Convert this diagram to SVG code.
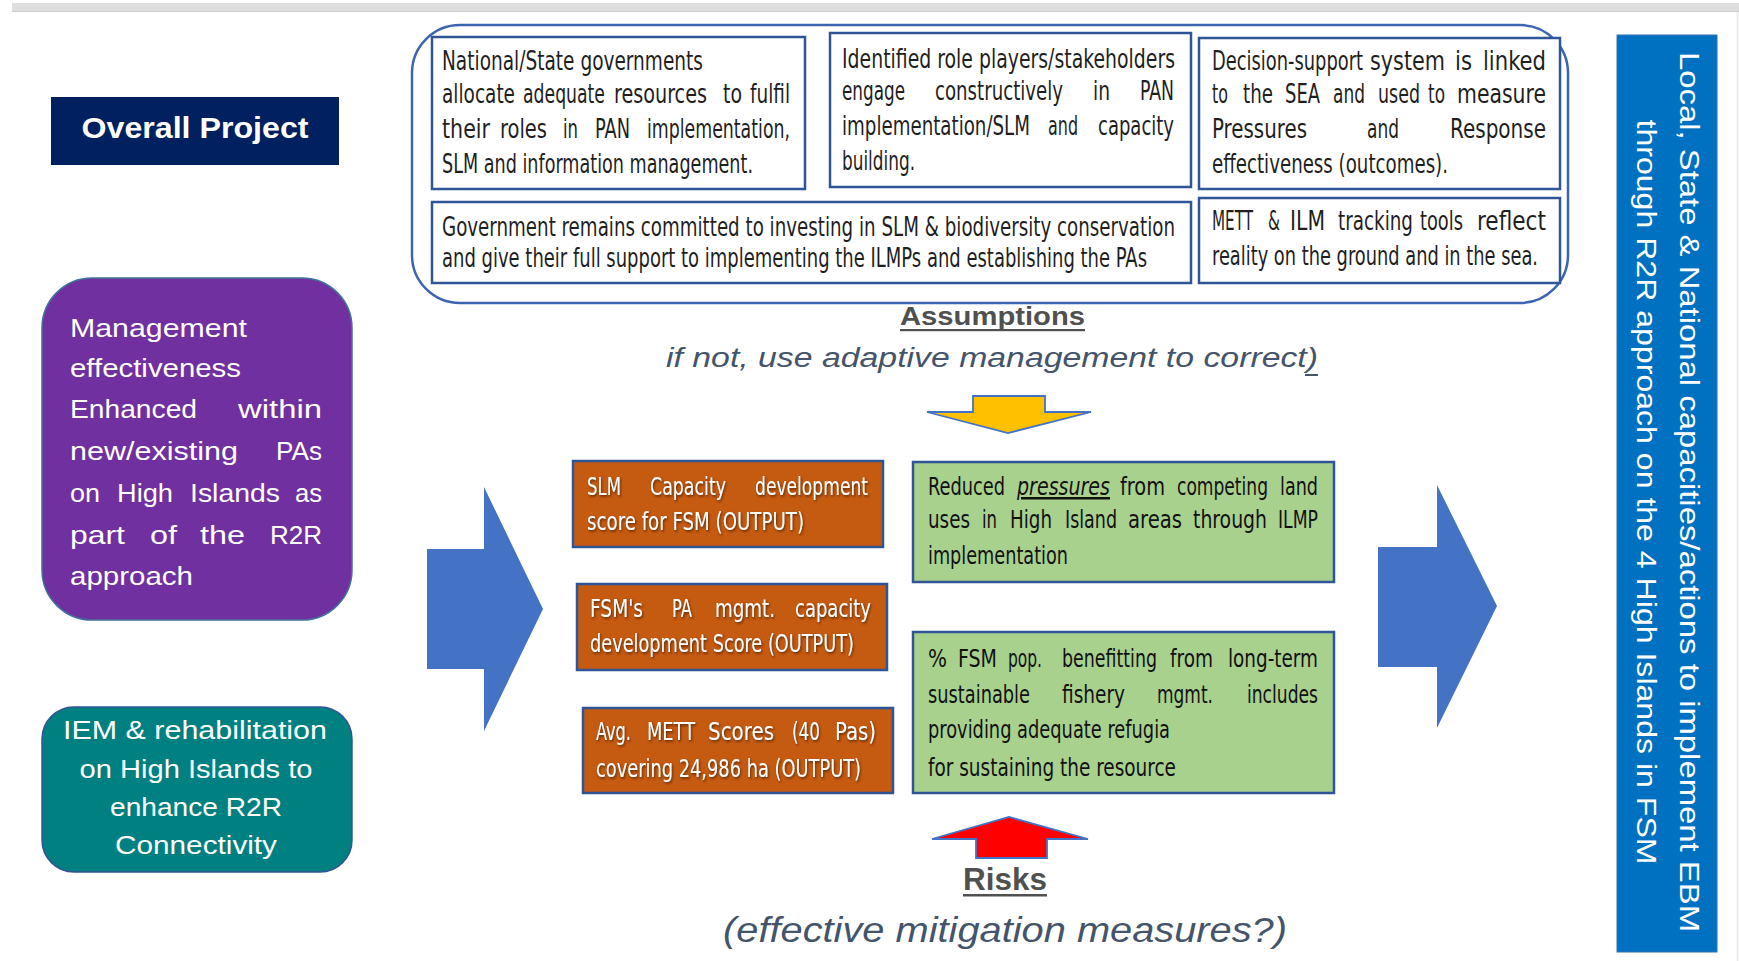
<svg xmlns="http://www.w3.org/2000/svg" width="1739" height="961" viewBox="0 0 1739 961">
  <defs>
    <style>
      .cond { font-family: "Liberation Sans Narrow", "DejaVu Sans Condensed", "Liberation Sans", sans-serif; font-size: 26px; fill: #1f1f1f; }
      .grn { font-size: 25px; fill: #111; }
      .org { font-size: 24px; fill: #ffffff; filter: url(#txtShadow); }
      .cal { font-family: "Liberation Sans", "DejaVu Sans", sans-serif; fill: #ffffff; }
      .hdr { font-family: "Liberation Sans", "DejaVu Sans", sans-serif; font-weight: bold; fill: #505050; }
      .note { font-family: "Liberation Sans", "DejaVu Sans", sans-serif; font-style: italic; fill: #44546A; }
      .abox { fill: #ffffff; stroke: #2F5597; stroke-width: 2.5; }
      .obox { fill: #C55A11; stroke: #2F5597; stroke-width: 2.5; }
      .gbox { fill: #A9D18E; stroke: #2F5597; stroke-width: 2.5; }
      .blk { fill: #4472C4; }
    </style>
    <filter id="txtShadow" x="-5%" y="-20%" width="110%" height="150%">
      <feDropShadow dx="1" dy="1.5" stdDeviation="0.8" flood-color="#3a1a05" flood-opacity="0.75"/>
    </filter>
  </defs>

  <!-- page chrome -->
  <rect x="12" y="3" width="1727" height="9" fill="#dedede"/>
  <line x1="12" y1="11.5" x2="1739" y2="11.5" stroke="#cdcdcd" stroke-width="1"/>
  <line x1="1737.5" y1="12" x2="1737.5" y2="961" stroke="#e8e8e8" stroke-width="1.5"/>

  <!-- left column -->
  <g id="overall-project">
    <rect x="51" y="97" width="288" height="68" fill="#002060"/>
    <text x="195" y="138" text-anchor="middle" class="cal" font-weight="bold" font-size="30" textLength="227" lengthAdjust="spacingAndGlyphs">Overall Project</text>
  </g>

  <g id="mgmt-effectiveness">
    <rect x="42" y="278" width="310" height="342" rx="50" fill="#7030A0" stroke="#41719C" stroke-width="1.5"/>
    <g class="cal" font-size="26">
      <text x="70" y="337" textLength="177" lengthAdjust="spacingAndGlyphs">Management</text>
      <text x="70" y="377" textLength="171" lengthAdjust="spacingAndGlyphs">effectiveness</text>
      <text x="70" y="418" textLength="127" lengthAdjust="spacingAndGlyphs">Enhanced</text>
      <text x="238" y="418" textLength="84" lengthAdjust="spacingAndGlyphs">within</text>
      <text x="70" y="460" textLength="168" lengthAdjust="spacingAndGlyphs">new/existing</text>
      <text x="276" y="460" textLength="46" lengthAdjust="spacingAndGlyphs">PAs</text>
      <text x="70" y="502" textLength="30" lengthAdjust="spacingAndGlyphs">on</text>
      <text x="117" y="502" textLength="56" lengthAdjust="spacingAndGlyphs">High</text>
      <text x="190" y="502" textLength="90" lengthAdjust="spacingAndGlyphs">Islands</text>
      <text x="295" y="502" textLength="27" lengthAdjust="spacingAndGlyphs">as</text>
      <text x="70" y="544" textLength="55" lengthAdjust="spacingAndGlyphs">part</text>
      <text x="150" y="544" textLength="27" lengthAdjust="spacingAndGlyphs">of</text>
      <text x="200" y="544" textLength="45" lengthAdjust="spacingAndGlyphs">the</text>
      <text x="270" y="544" textLength="52" lengthAdjust="spacingAndGlyphs">R2R</text>
      <text x="70" y="585" textLength="123" lengthAdjust="spacingAndGlyphs">approach</text>
    </g>
  </g>

  <g id="iem-rehabilitation">
    <rect x="42" y="707" width="310" height="165" rx="32" fill="#008080" stroke="#2F5597" stroke-width="1.5"/>
    <g class="cal" font-size="26" text-anchor="middle">
      <text x="195" y="739" textLength="264" lengthAdjust="spacingAndGlyphs">IEM &amp; rehabilitation</text>
      <text x="196" y="778" textLength="233" lengthAdjust="spacingAndGlyphs">on High Islands to</text>
      <text x="196" y="816" textLength="172" lengthAdjust="spacingAndGlyphs">enhance R2R</text>
      <text x="196" y="854" textLength="162" lengthAdjust="spacingAndGlyphs">Connectivity</text>
    </g>
  </g>

  <!-- assumptions panel -->
  <g id="assumptions">
    <rect x="412" y="25" width="1156" height="278" rx="48" fill="none" stroke="#3C64B1" stroke-width="2.5"/>

    <g id="assumption-resources">
      <rect class="abox" x="432" y="37" width="373" height="152"/>
      <g class="cond">
        <text x="442" y="70" textLength="261" lengthAdjust="spacingAndGlyphs">National/State governments</text>
        <text x="442" y="103" textLength="73" lengthAdjust="spacingAndGlyphs">allocate</text>
        <text x="523" y="103" textLength="82" lengthAdjust="spacingAndGlyphs">adequate</text>
        <text x="614" y="103" textLength="93" lengthAdjust="spacingAndGlyphs">resources</text>
        <text x="723" y="103" textLength="19" lengthAdjust="spacingAndGlyphs">to</text>
        <text x="750" y="103" textLength="40" lengthAdjust="spacingAndGlyphs">fulfil</text>
        <text x="442" y="138" textLength="48" lengthAdjust="spacingAndGlyphs">their</text>
        <text x="500" y="138" textLength="47" lengthAdjust="spacingAndGlyphs">roles</text>
        <text x="563" y="138" textLength="15" lengthAdjust="spacingAndGlyphs">in</text>
        <text x="595" y="138" textLength="35" lengthAdjust="spacingAndGlyphs">PAN</text>
        <text x="647" y="138" textLength="143" lengthAdjust="spacingAndGlyphs">implementation,</text>
        <text x="442" y="173" textLength="311" lengthAdjust="spacingAndGlyphs">SLM and information management.</text>
      </g>
    </g>

    <g id="assumption-stakeholders">
      <rect class="abox" x="830" y="33" width="361" height="154"/>
      <g class="cond">
        <text x="842" y="68" textLength="333" lengthAdjust="spacingAndGlyphs">Identified role players/stakeholders</text>
        <text x="842" y="100" textLength="63" lengthAdjust="spacingAndGlyphs">engage</text>
        <text x="935" y="100" textLength="128" lengthAdjust="spacingAndGlyphs">constructively</text>
        <text x="1093" y="100" textLength="17" lengthAdjust="spacingAndGlyphs">in</text>
        <text x="1140" y="100" textLength="34" lengthAdjust="spacingAndGlyphs">PAN</text>
        <text x="842" y="135" textLength="188" lengthAdjust="spacingAndGlyphs">implementation/SLM</text>
        <text x="1048" y="135" textLength="30" lengthAdjust="spacingAndGlyphs">and</text>
        <text x="1098" y="135" textLength="76" lengthAdjust="spacingAndGlyphs">capacity</text>
        <text x="842" y="170" textLength="73" lengthAdjust="spacingAndGlyphs">building.</text>
      </g>
    </g>

    <g id="assumption-decision-support">
      <rect class="abox" x="1199" y="38" width="361" height="151"/>
      <g class="cond">
        <text x="1212" y="70" textLength="151" lengthAdjust="spacingAndGlyphs">Decision-support</text>
        <text x="1370" y="70" textLength="75" lengthAdjust="spacingAndGlyphs">system</text>
        <text x="1455" y="70" textLength="17" lengthAdjust="spacingAndGlyphs">is</text>
        <text x="1483" y="70" textLength="63" lengthAdjust="spacingAndGlyphs">linked</text>
        <text x="1212" y="103" textLength="16" lengthAdjust="spacingAndGlyphs">to</text>
        <text x="1243" y="103" textLength="30" lengthAdjust="spacingAndGlyphs">the</text>
        <text x="1285" y="103" textLength="35" lengthAdjust="spacingAndGlyphs">SEA</text>
        <text x="1333" y="103" textLength="32" lengthAdjust="spacingAndGlyphs">and</text>
        <text x="1378" y="103" textLength="42" lengthAdjust="spacingAndGlyphs">used</text>
        <text x="1428" y="103" textLength="17" lengthAdjust="spacingAndGlyphs">to</text>
        <text x="1457" y="103" textLength="89" lengthAdjust="spacingAndGlyphs">measure</text>
        <text x="1212" y="138" textLength="95" lengthAdjust="spacingAndGlyphs">Pressures</text>
        <text x="1367" y="138" textLength="32" lengthAdjust="spacingAndGlyphs">and</text>
        <text x="1450" y="138" textLength="96" lengthAdjust="spacingAndGlyphs">Response</text>
        <text x="1212" y="173" textLength="236" lengthAdjust="spacingAndGlyphs">effectiveness (outcomes).</text>
      </g>
    </g>

    <g id="assumption-commitment">
      <rect class="abox" x="432" y="202" width="759" height="81"/>
      <g class="cond">
        <text x="442" y="236" textLength="733" lengthAdjust="spacingAndGlyphs">Government remains committed to investing in SLM &amp; biodiversity conservation</text>
        <text x="442" y="267" textLength="705" lengthAdjust="spacingAndGlyphs">and give their full support to implementing the ILMPs and establishing the PAs</text>
      </g>
    </g>

    <g id="assumption-tracking-tools">
      <rect class="abox" x="1199" y="198" width="361" height="85"/>
      <g class="cond">
        <text x="1212" y="230" textLength="41" lengthAdjust="spacingAndGlyphs">METT</text>
        <text x="1268" y="230" textLength="12" lengthAdjust="spacingAndGlyphs">&amp;</text>
        <text x="1290" y="230" textLength="35" lengthAdjust="spacingAndGlyphs">ILM</text>
        <text x="1338" y="230" textLength="75" lengthAdjust="spacingAndGlyphs">tracking</text>
        <text x="1420" y="230" textLength="43" lengthAdjust="spacingAndGlyphs">tools</text>
        <text x="1477" y="230" textLength="69" lengthAdjust="spacingAndGlyphs">reflect</text>
        <text x="1212" y="265" textLength="326" lengthAdjust="spacingAndGlyphs">reality on the ground and in the sea.</text>
      </g>
    </g>

    <g id="assumptions-label">
      <text x="900" y="325" class="hdr" font-size="25" textLength="185" lengthAdjust="spacingAndGlyphs">Assumptions</text>
      <rect x="900" y="329" width="185" height="2.2" fill="#505050"/>
      <text x="666" y="367" class="note" font-size="27" textLength="652" lengthAdjust="spacingAndGlyphs">if not, use  adaptive management to correct)</text>
      <rect x="1305" y="374" width="13" height="2" fill="#44546A"/>
    </g>
  </g>

  <!-- outputs -->
  <g id="output-slm-capacity">
    <rect class="obox" x="573" y="461" width="310" height="86"/>
    <g class="cond org">
      <text x="587" y="495" textLength="34" lengthAdjust="spacingAndGlyphs">SLM</text>
      <text x="650" y="495" textLength="76" lengthAdjust="spacingAndGlyphs">Capacity</text>
      <text x="755" y="495" textLength="113" lengthAdjust="spacingAndGlyphs">development</text>
      <text x="587" y="530" textLength="217" lengthAdjust="spacingAndGlyphs">score for FSM (OUTPUT)</text>
    </g>
  </g>

  <g id="output-pa-capacity">
    <rect class="obox" x="577" y="584" width="310" height="86"/>
    <g class="cond org">
      <text x="590" y="617" textLength="53" lengthAdjust="spacingAndGlyphs">FSM's</text>
      <text x="672" y="617" textLength="20" lengthAdjust="spacingAndGlyphs">PA</text>
      <text x="715" y="617" textLength="60" lengthAdjust="spacingAndGlyphs">mgmt.</text>
      <text x="795" y="617" textLength="76" lengthAdjust="spacingAndGlyphs">capacity</text>
      <text x="590" y="652" textLength="264" lengthAdjust="spacingAndGlyphs">development Score (OUTPUT)</text>
    </g>
  </g>

  <g id="output-mett-scores">
    <rect class="obox" x="583" y="708" width="310" height="85"/>
    <g class="cond org">
      <text x="596" y="740" textLength="35" lengthAdjust="spacingAndGlyphs">Avg.</text>
      <text x="647" y="740" textLength="48" lengthAdjust="spacingAndGlyphs">METT</text>
      <text x="708" y="740" textLength="66" lengthAdjust="spacingAndGlyphs">Scores</text>
      <text x="792" y="740" textLength="28" lengthAdjust="spacingAndGlyphs">(40</text>
      <text x="835" y="740" textLength="41" lengthAdjust="spacingAndGlyphs">Pas)</text>
      <text x="596" y="777" textLength="265" lengthAdjust="spacingAndGlyphs">covering 24,986 ha (OUTPUT)</text>
    </g>
  </g>

  <!-- outcomes -->
  <g id="outcome-reduced-pressures">
    <rect class="gbox" x="913" y="462" width="421" height="120"/>
    <g class="cond grn">
      <text x="928" y="495" textLength="77" lengthAdjust="spacingAndGlyphs">Reduced</text>
      <text x="1017" y="495" font-style="italic" text-decoration="underline" textLength="93" lengthAdjust="spacingAndGlyphs">pressures</text>
      <text x="1120" y="495" textLength="45" lengthAdjust="spacingAndGlyphs">from</text>
      <text x="1177" y="495" textLength="91" lengthAdjust="spacingAndGlyphs">competing</text>
      <text x="1280" y="495" textLength="38" lengthAdjust="spacingAndGlyphs">land</text>
      <text x="928" y="528" textLength="42" lengthAdjust="spacingAndGlyphs">uses</text>
      <text x="982" y="528" textLength="15" lengthAdjust="spacingAndGlyphs">in</text>
      <text x="1010" y="528" textLength="42" lengthAdjust="spacingAndGlyphs">High</text>
      <text x="1065" y="528" textLength="52" lengthAdjust="spacingAndGlyphs">Island</text>
      <text x="1128" y="528" textLength="54" lengthAdjust="spacingAndGlyphs">areas</text>
      <text x="1193" y="528" textLength="74" lengthAdjust="spacingAndGlyphs">through</text>
      <text x="1278" y="528" textLength="40" lengthAdjust="spacingAndGlyphs">ILMP</text>
      <text x="928" y="564" textLength="140" lengthAdjust="spacingAndGlyphs">implementation</text>
    </g>
  </g>

  <g id="outcome-fishery-benefit">
    <rect class="gbox" x="913" y="632" width="421" height="161"/>
    <g class="cond grn">
      <text x="928" y="667" textLength="19" lengthAdjust="spacingAndGlyphs">%</text>
      <text x="958" y="667" textLength="39" lengthAdjust="spacingAndGlyphs">FSM</text>
      <text x="1008" y="667" textLength="34" lengthAdjust="spacingAndGlyphs">pop.</text>
      <text x="1062" y="667" textLength="95" lengthAdjust="spacingAndGlyphs">benefitting</text>
      <text x="1170" y="667" textLength="43" lengthAdjust="spacingAndGlyphs">from</text>
      <text x="1228" y="667" textLength="90" lengthAdjust="spacingAndGlyphs">long-term</text>
      <text x="928" y="703" textLength="102" lengthAdjust="spacingAndGlyphs">sustainable</text>
      <text x="1062" y="703" textLength="63" lengthAdjust="spacingAndGlyphs">fishery</text>
      <text x="1157" y="703" textLength="56" lengthAdjust="spacingAndGlyphs">mgmt.</text>
      <text x="1247" y="703" textLength="71" lengthAdjust="spacingAndGlyphs">includes</text>
      <text x="928" y="738" textLength="242" lengthAdjust="spacingAndGlyphs">providing adequate refugia</text>
      <text x="928" y="776" textLength="248" lengthAdjust="spacingAndGlyphs">for sustaining the resource</text>
    </g>
  </g>

  <!-- risks label -->
  <g id="risks">
    <text x="963" y="890" class="hdr" font-size="32" textLength="84" lengthAdjust="spacingAndGlyphs">Risks</text>
    <rect x="963" y="894" width="84" height="2.5" fill="#505050"/>
    <text x="723" y="942" class="note" font-size="35" textLength="564" lengthAdjust="spacingAndGlyphs">(effective mitigation measures?)</text>
  </g>

  <!-- goal bar -->
  <g id="goal">
    <rect x="1617" y="35" width="100" height="917" fill="#0070C0" stroke="#2E75B6" stroke-width="1"/>
    <g class="cal" font-size="28" text-anchor="middle" transform="translate(1667,492) rotate(90)">
      <text x="0" y="-13" textLength="880" lengthAdjust="spacingAndGlyphs">Local, State &amp; National capacities/actions to implement EBM</text>
      <text x="0" y="30" textLength="745" lengthAdjust="spacingAndGlyphs">through R2R approach on the 4 High Islands in FSM</text>
    </g>
  </g>

  <!-- block arrows -->
  <g id="connectors">
    <polygon class="blk" points="427,549 484,549 484,487 543,609 484,731 484,669 427,669"/>
    <polygon class="blk" points="1378,547 1437,547 1437,485 1497,606 1437,728 1437,667 1378,667"/>
    <polygon points="973,396 1045,396 1045,412 1091,412 1008,433 927,412 973,412" fill="#FFC000" stroke="#4472C4" stroke-width="1.8" stroke-linejoin="miter"/>
    <polygon points="976,858 1047,858 1047,839 1088,839 1009,817 932,839 976,839" fill="#FF0000" stroke="#4472C4" stroke-width="1.8" stroke-linejoin="miter"/>
  </g>
</svg>
